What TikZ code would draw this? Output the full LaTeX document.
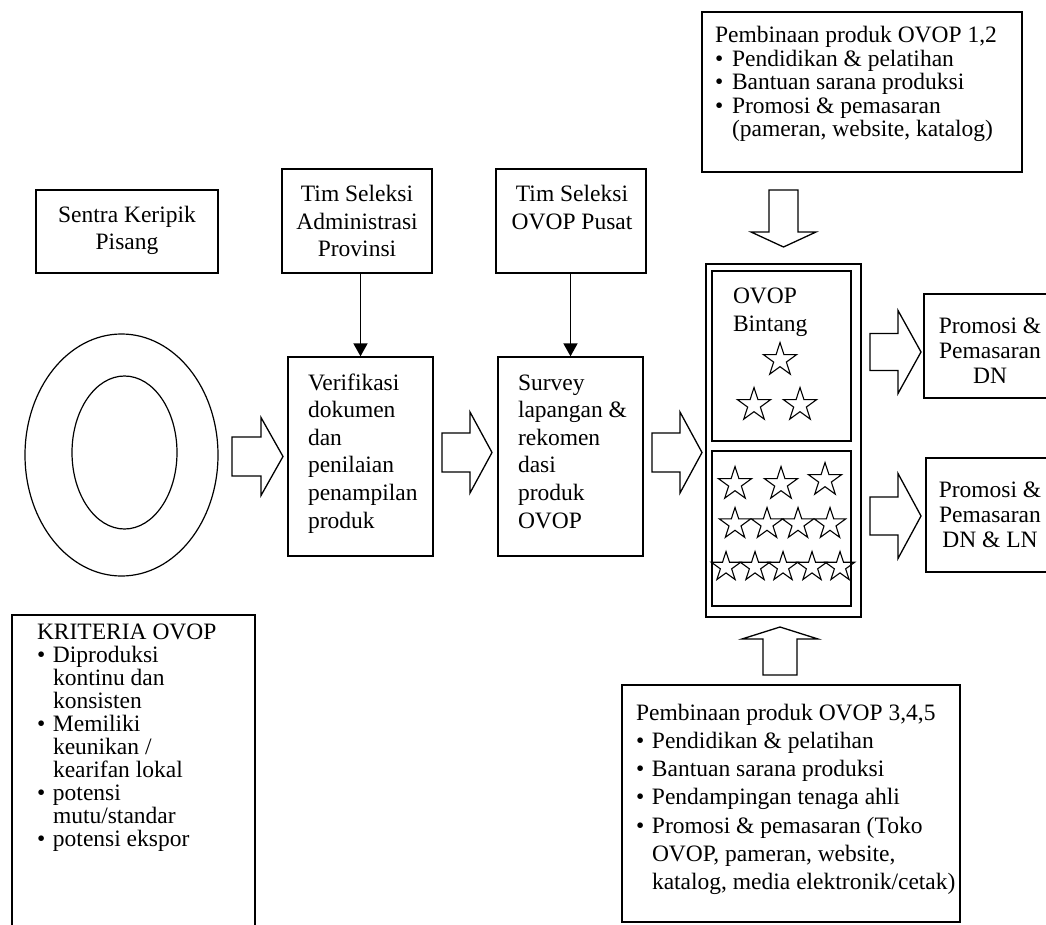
\documentclass[tikz,border=0pt]{standalone}
\usepackage{fontspec}
\setmainfont{Liberation Serif}
\usetikzlibrary{shapes.geometric,arrows.meta}
\newcommand\myfs[1]{\fontsize{23.5}{#1}\selectfont}
\newcommand\mybul[1]{\makebox[#1][l]{\textbullet}}
\newcommand\myrarrow[6]{\draw[barrow] (#1,{#4-#5}) -- (#2,{#4-#5}) -- (#2,{#4-#6}) -- (#3,#4) -- (#2,{#4+#6}) -- (#2,{#4+#5}) -- (#1,{#4+#5}) -- cycle;}
\newcommand\myvarrow[6]{\draw[barrow] ({#1-#5},#2) -- ({#1+#5},#2) -- ({#1+#5},#3) -- ({#1+#6},#3) -- (#1,#4) -- ({#1-#6},#3) -- ({#1-#5},#3) -- cycle;}
\begin{document}
\begin{tikzpicture}[x=1pt,y=-1pt,
  box/.style={draw,line width=1.3pt,inner sep=0pt},
  tx/.style={inner sep=0pt,outer sep=0pt},
  barrow/.style={draw,line width=1.3pt,line join=miter,fill=white},
  conn/.style={line width=1.8pt,-{Triangle[length=13pt,width=14pt]}},
  ostar/.style={star,star points=5,star point ratio=2.618,draw,line width=1.1pt,inner sep=0pt}]
\clip (0,0) rectangle (1046,925);
\fill[white] (0,0) rectangle (1046,925);

% boxes
\node[box,minimum width=182pt,minimum height=83pt] (sentra) at (127,231.5) {};
\node[box,minimum width=150pt,minimum height=104pt] (tadm) at (357,221) {};
\node[box,minimum width=150pt,minimum height=104pt] (tpus) at (571,221) {};
\node[box,minimum width=145pt,minimum height=199pt] (verif) at (360.5,456.5) {};
\node[box,minimum width=145pt,minimum height=199pt] (survey) at (570.5,456.5) {};
\node[box,minimum width=320pt,minimum height=160pt] (pemb12) at (862,92) {};
\node[box,minimum width=338pt,minimum height=237pt] (pemb345) at (791,803.5) {};
\node[box,minimum width=243pt,minimum height=325pt] (krit) at (133.5,777.5) {};
\node[box,minimum width=134pt,minimum height=104pt] (dn) at (991,346) {};
\node[box,minimum width=132pt,minimum height=114pt] (dnln) at (992,515) {};
\node[box,minimum width=155pt,minimum height=353pt] (outer) at (783.5,440.5) {};
\node[box,minimum width=139pt,minimum height=170pt] (ovtop) at (781.5,356) {};
\node[box,minimum width=139pt,minimum height=155pt] (ovbot) at (781.5,528.5) {};

% ellipses
\node[draw,ellipse,line width=1.2pt,inner sep=0pt,minimum width=193pt,minimum height=242pt] (outell) at (121.5,455) {};
\node[draw,ellipse,line width=1.2pt,inner sep=0pt,minimum width=105pt,minimum height=153pt] (inell) at (124.5,452.5) {};

% texts
\node[tx,anchor=base] (tsentra) at (127,223) {\parbox[t]{300pt}{\myfs{27}\centering Sentra Keripik\\Pisang}};
\node[tx,anchor=base] (ttadm) at (357,202) {\parbox[t]{300pt}{\myfs{27.5}\centering Tim Seleksi\\Administrasi\\Provinsi}};
\node[tx,anchor=base] (ttpus) at (572,202) {\parbox[t]{300pt}{\myfs{28}\centering Tim Seleksi\\OVOP Pusat}};
\node[tx,anchor=base west] (tverif) at (308,390) {\parbox[t]{300pt}{\myfs{27.6}\raggedright Verifikasi\\dokumen\\dan\\penilaian\\penampilan\\produk}};
\node[tx,anchor=base west] (tsurvey) at (518,390) {\parbox[t]{300pt}{\myfs{27.6}\raggedright Survey\\lapangan \&\\rekomen\\dasi\\produk\\OVOP}};
\node[tx,anchor=base west] (tovop) at (733,303) {\parbox[t]{300pt}{\myfs{28}\raggedright OVOP\\Bintang}};
\node[tx,anchor=base] (tdn) at (990,333) {\parbox[t]{300pt}{\myfs{25}\centering Promosi \&\\Pemasaran\\DN}};
\node[tx,anchor=base] (tdnln) at (990,497) {\parbox[t]{300pt}{\myfs{25}\centering Promosi \&\\Pemasaran\\DN \& LN}};
\node[tx,anchor=base west] (tpemb12) at (715,43) {\parbox[t]{400pt}{\myfs{23.5}\raggedright Pembinaan produk OVOP 1,2\\
\mybul{17pt}Pendidikan \& pelatihan\\
\mybul{17pt}Bantuan sarana produksi\\
\mybul{17pt}Promosi \& pemasaran\\
\hspace*{17pt}(pameran, website, katalog)}};
\node[tx,anchor=base west] (tpemb345) at (636,720) {\parbox[t]{400pt}{\myfs{28.3}\raggedright Pembinaan produk OVOP 3,4,5\\
\mybul{16pt}Pendidikan \& pelatihan\\
\mybul{16pt}Bantuan sarana produksi\\
\mybul{16pt}Pendampingan tenaga ahli\\
\mybul{16pt}Promosi \& pemasaran (Toko\\
\hspace*{16pt}OVOP, pameran, website,\\
\hspace*{16pt}katalog, media elektronik/cetak)}};
\node[tx,anchor=base west] (tkrit) at (37,639) {\parbox[t]{400pt}{\myfs{23}\raggedright KRITERIA OVOP\\
\mybul{16pt}Diproduksi\\
\hspace*{16pt}kontinu dan\\
\hspace*{16pt}konsisten\\
\mybul{16pt}Memiliki\\
\hspace*{16pt}keunikan /\\
\hspace*{16pt}kearifan lokal\\
\mybul{16pt}potensi\\
\hspace*{16pt}mutu/standar\\
\mybul{16pt}potensi ekspor}};

% stars
\node[ostar,minimum size=35pt] (s1) at (780,360) {};
\node[ostar,minimum size=35pt] (s2) at (754,405) {};
\node[ostar,minimum size=35pt] (s3) at (800,405) {};
\node[ostar,minimum size=35pt] (s4) at (735,484) {};
\node[ostar,minimum size=35pt] (s5) at (781,484) {};
\node[ostar,minimum size=35pt] (s6) at (825,480) {};
\node[ostar,minimum size=33pt] (s7) at (735,524) {};
\node[ostar,minimum size=33pt] (s8) at (767,524) {};
\node[ostar,minimum size=33pt] (s9) at (798,524) {};
\node[ostar,minimum size=33pt] (s10) at (830,524) {};
\node[ostar,minimum size=31pt] (s11) at (726,567) {};
\node[ostar,minimum size=31pt] (s12) at (755,567) {};
\node[ostar,minimum size=31pt] (s13) at (783,567) {};
\node[ostar,minimum size=31pt] (s14) at (812,567) {};
\node[ostar,minimum size=31pt] (s15) at (840,567) {};

% line connectors
\draw[conn] (tadm.south -| verif.north) -- (verif.north);
\draw[conn] (tpus.south -| survey.north) -- (survey.north);

% block arrows
\myrarrow{232}{261}{283}{456.5}{19.5}{39}
\myrarrow{442}{470}{492}{452.5}{19.5}{40.5}
\myrarrow{652}{680}{702}{452.5}{19.5}{40.5}
\myrarrow{870}{898}{921}{352}{18.5}{41.5}
\myrarrow{870}{898}{921}{516}{19}{42.5}
\myvarrow{783.5}{190}{232}{247}{14.5}{32.5}
\myvarrow{780}{675}{639}{627}{17}{38}
\end{tikzpicture}
\end{document}
